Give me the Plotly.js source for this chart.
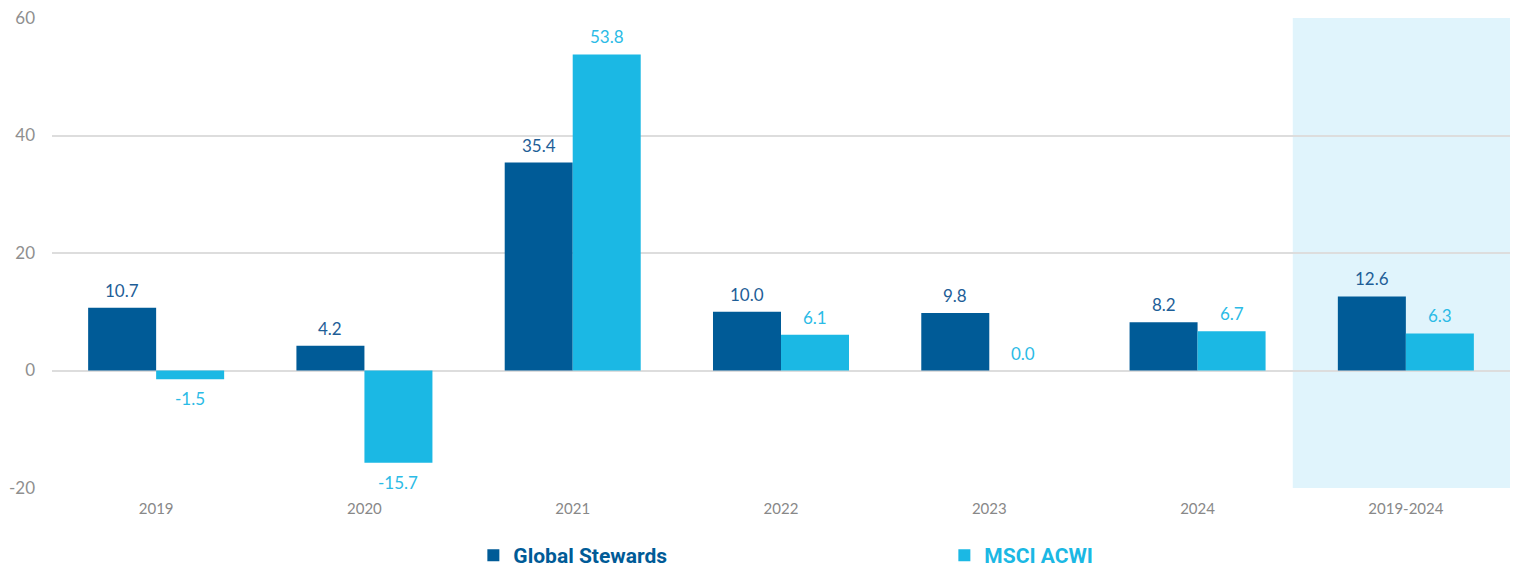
<!DOCTYPE html>
<html>
<head>
<meta charset="utf-8">
<script src="https://cdn.plot.ly/plotly-3.0.1.min.js"></script>
<style>html,body{margin:0;padding:0;background:#fff;}#chart{width:1515px;height:569px;}</style>
</head>
<body>
<div id="chart"></div>
<script>
const categories = ['2019', '2020', '2021', '2022', '2023', '2024', '2019-2024'];
const globalStewards = [10.7, 4.2, 35.4, 10.0, 9.8, 8.2, 12.6];
const msciAcwi = [-1.5, -15.7, 53.8, 6.1, 0.0, 6.7, 6.3];
const seriesNames = ['Global Stewards', 'MSCI ACWI'];
const yTicks = [-20, 0, 20, 40, 60];
const yTickLabels = ['-20', '0', '20', '40', '60'];

const darkBlue = '#005B97';
const lightBlue = '#1BB8E4';
const darkLabel = '#1E5E97';
const lightLabel = '#2BBBE6';

const traces = [
  {
    type: 'bar', x: categories, y: globalStewards,
    name: '<span style="color:' + darkBlue + '"><b>' + seriesNames[0] + '</b></span>',
    marker: {color: darkBlue}, hoverinfo: 'skip'
  },
  {
    type: 'bar', x: categories, y: msciAcwi,
    name: '<span style="color:' + lightBlue + '"><b>' + seriesNames[1] + '</b></span>',
    marker: {color: lightBlue}, hoverinfo: 'skip'
  }
];

const annotations = [];
function addLabels(vals, shift, color) {
  vals.forEach((v, i) => {
    const neg = v < 0;
    annotations.push({
      x: i, y: v, xref: 'x', yref: 'y',
      text: v.toFixed(1), showarrow: false,
      xshift: shift, yshift: neg ? -7 : 5,
      yanchor: neg ? 'top' : 'bottom',
      font: {family: 'Lato, sans-serif', size: 17, color: color}
    });
  });
}
addLabels(globalStewards, -34, darkLabel);
addLabels(msciAcwi, 34, lightLabel);

const layout = {
  width: 1515, height: 569,
  margin: {l: 52, r: 5, t: 18, b: 81, autoexpand: false},
  paper_bgcolor: '#ffffff', plot_bgcolor: 'rgba(0,0,0,0)',
  barmode: 'group', bargap: 0.347, bargroupgap: 0,
  font: {family: 'Lato, sans-serif', color: '#888888'},
  xaxis: {
    type: 'category', showgrid: false, zeroline: false, showline: false,
    ticks: '', tickfont: {size: 15, color: '#888888'}, ticklabelstandoff: 10,
    range: [-0.5, 6.5]
  },
  yaxis: {
    range: [-20, 60], tickvals: yTicks, ticktext: yTickLabels,
    showgrid: true, gridcolor: '#dddddd', gridwidth: 2,
    zeroline: true, zerolinecolor: '#dddddd', zerolinewidth: 2,
    ticks: '', tickfont: {size: 17, color: '#8f8f8f'}, ticklabelstandoff: 16,
    fixedrange: true
  },
  shapes: [{
    type: 'rect', xref: 'x', yref: 'y', x0: 5.457, x1: 6.5, y0: -20.3, y1: 60,
    fillcolor: '#E0F4FC', line: {width: 0}, layer: 'below'
  }],
  annotations: annotations,
  showlegend: true,
  legend: {
    orientation: 'h', x: 0.289, xanchor: 'left', y: -0.1, yanchor: 'top',
    entrywidth: 426, entrywidthmode: 'pixels', itemwidth: 30,
    font: {family: 'Roboto, sans-serif', size: 21, color: darkBlue},
    bgcolor: 'rgba(0,0,0,0)'
  }
};

Plotly.newPlot('chart', traces, layout, {displayModeBar: false, staticPlot: true});
</script>
</body>
</html>
